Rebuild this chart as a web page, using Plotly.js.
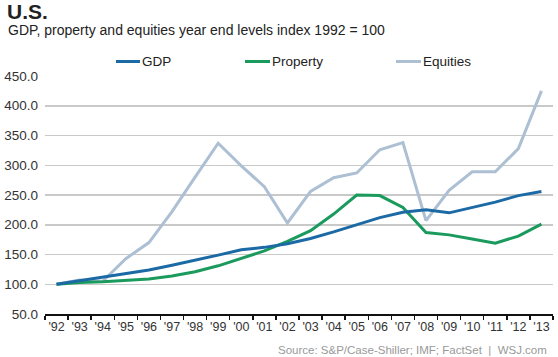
<!DOCTYPE html>
<html>
<head>
<meta charset="utf-8">
<script src="https://cdn.plot.ly/plotly-3.0.1.min.js"></script>
<style>html,body{margin:0;padding:0;background:#fff}#chart{width:558px;height:357px}</style>
</head>
<body>
<div id="chart"></div>
<script>
var years = ["'92","'93","'94","'95","'96","'97","'98","'99","'00","'01","'02","'03","'04","'05","'06","'07","'08","'09","'10","'11","'12","'13"];
var gdp = [100,106,111,117,124,132,140,149,158,162,168,177,188,200,212,221,225,220,229,238,249,256];
var property = [100,103,104,106,109,114,121,131,144,156,172,190,218,250,249,229,187,183,176,169,181,201];
var equities = [100,107,105,143,170,222,280,337,299,264,203,256,279,287,326,338,207,258,289,289,328,425];
var seriesNames = ["GDP","Property","Equities"];
var seriesColors = ["#1b6aa5","#1a9a5c","#adbfd3"];
var seriesData = [gdp, property, equities];

var traces = seriesData.map(function(d,i){
  return {x: years, y: d, type:'scatter', mode:'lines', name: seriesNames[i],
          line:{color: seriesColors[i], width:3}, hoverinfo:'skip'};
});
traces = [traces[2], traces[1], traces[0]];

var W = 508, L = 45, T = 76, H = 238;
function px(x){ return (x - L)/W; }
function py(y){ return (T + H - y)/H; }

var legendPos = [[116,140],[245,270],[396,421]];
var shapes = [], annotations = [];
seriesNames.forEach(function(n,i){
  shapes.push({type:'line', xref:'paper', yref:'paper', x0:px(legendPos[i][0]), x1:px(legendPos[i][1]),
    y0:py(61.5), y1:py(61.5), line:{color:seriesColors[i], width:3}});
  annotations.push({xref:'paper', yref:'paper', x:px(legendPos[i][1]), y:py(61.5), xanchor:'left', yanchor:'middle',
    text:n, showarrow:false, font:{family:'Liberation Sans, Arial', size:13.5, color:'#222'}});
});
annotations.push({xref:'paper', yref:'paper', x:px(6), y:py(30), xanchor:'left', yanchor:'middle',
  text:'GDP, property and equities year end levels index 1992 = 100', showarrow:false,
  font:{family:'Liberation Sans, Arial', size:14, color:'#222'}});
annotations.push({xref:'paper', yref:'paper', x:px(549), y:py(350), xanchor:'right', yanchor:'middle',
  text:'Source: S&P/Case-Shiller; IMF; FactSet  |  WSJ.com', showarrow:false,
  font:{family:'Liberation Sans, Arial', size:11.5, color:'#999'}});

var layout = {
  width:558, height:357,
  margin:{l:L, r:558-L-W, t:T, b:357-T-H, pad:0},
  paper_bgcolor:'#fff', plot_bgcolor:'#fff',
  showlegend:false,
  title:{text:'<b>U.S.</b>', x:7/558, xanchor:'left', y:1-11.5/357, yanchor:'middle', yref:'container',
         font:{family:'Liberation Sans, Arial', size:21, color:'#222'}},
  xaxis:{type:'category', range:[-0.5,21.5], tickson:'boundaries', ticks:'outside', ticklen:4, tickwidth:1.5,
         tickangle:0, tickcolor:'#111', showline:true, linecolor:'#111', linewidth:2, showgrid:false, zeroline:false,
         tickfont:{family:'Liberation Sans, Arial', size:12.5, color:'#333'}, fixedrange:true},
  yaxis:{range:[50,450], dtick:50, tick0:50, tickformat:'.1f', showgrid:true, gridcolor:'#c9c9c9', gridwidth:1.5,
         zeroline:false, showline:false, ticks:'', ticklabelstandoff:6,
         tickfont:{family:'Liberation Sans, Arial', size:13.5, color:'#333'}, fixedrange:true},
  shapes:shapes, annotations:annotations
};
Plotly.newPlot('chart', traces, layout, {displayModeBar:false, staticPlot:true});
</script>
</body>
</html>
